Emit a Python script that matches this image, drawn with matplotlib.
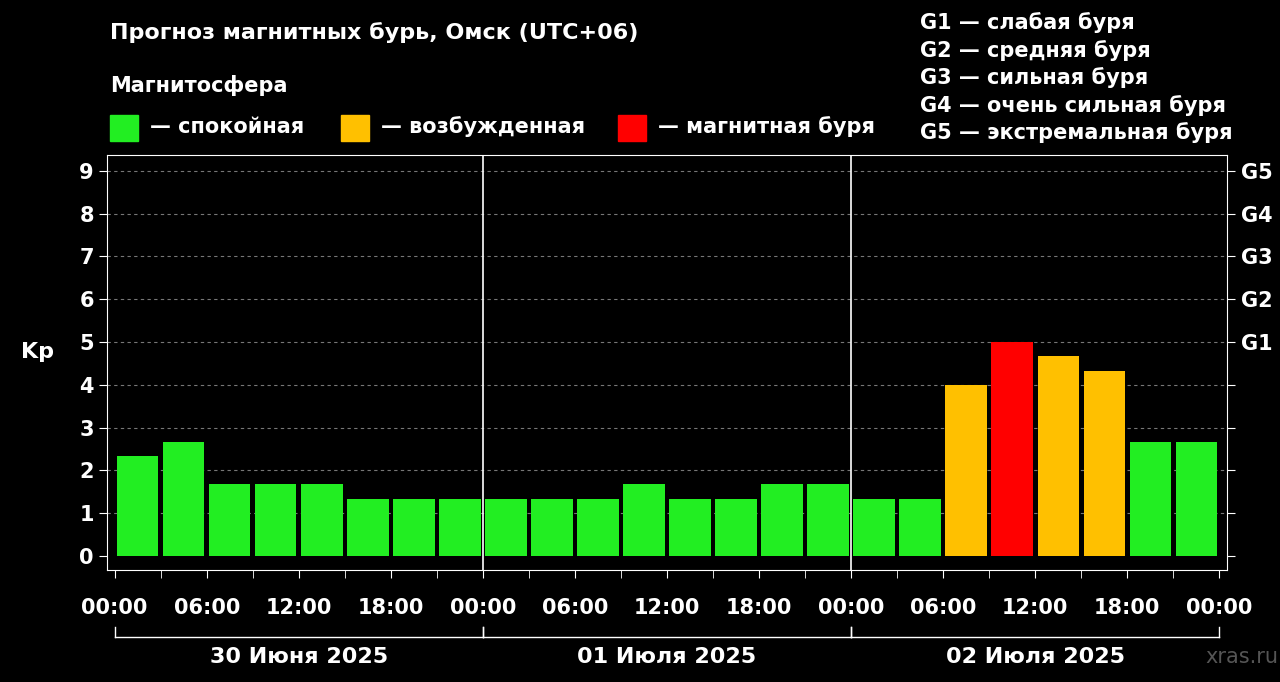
import matplotlib
matplotlib.use("Agg")
import matplotlib.pyplot as plt
from matplotlib.patches import Rectangle

kp = [2.33, 2.67, 1.67, 1.67, 1.67, 1.33, 1.33, 1.33,
      1.33, 1.33, 1.33, 1.67, 1.33, 1.33, 1.67, 1.67,
      1.33, 1.33, 4.0, 5.0, 4.67, 4.33, 2.67, 2.67]
hours = [1.5 + 3 * i for i in range(24)]
tick_labels = ["00:00", "06:00", "12:00", "18:00"] * 3 + ["00:00"]
days = ["30 Июня 2025", "01 Июля 2025", "02 Июля 2025"]
g_labels = ["G1", "G2", "G3", "G4", "G5"]
legend_g = ["G1 — слабая буря", "G2 — средняя буря", "G3 — сильная буря",
            "G4 — очень сильная буря", "G5 — экстремальная буря"]
legend_m = [("#22ee22", "— спокойная"), ("#ffc000", "— возбужденная"), ("#ff0000", "— магнитная буря")]

def color(v):
    if v >= 5: return "#ff0000"
    if v >= 4: return "#ffc000"
    return "#22ee22"

W, H = 1280, 682
fig = plt.figure(figsize=(W/100, H/100), dpi=100, facecolor="black")
ax = fig.add_axes([107/W, 1-570/H, (1227-107)/W, (570-155)/H], facecolor="black")
ax.set_xlim(-0.5, 72.5)
ax.set_ylim(-0.33, 9.37)
for y in range(1, 10):
    ax.axhline(y, color="#777777", lw=0.8, ls=(0, (3, 3)), zorder=0)
for x in (24, 48):
    ax.axvline(x, color="white", lw=1.2, zorder=1)
ax.bar(hours, kp, width=2.7, color=[color(v) for v in kp], zorder=2)
for s in ax.spines.values():
    s.set_color("white")
ax.set_yticks(range(0, 10))
ax.set_yticklabels([str(i) for i in range(10)], color="white", fontsize=15, fontweight="bold")
ax.set_xticks(range(0, 73, 6))
ax.set_xticks(range(0, 73, 3), minor=True)
ax.set_xticklabels(tick_labels, color="white", fontsize=15, fontweight="bold")
ax.tick_params(axis="x", which="both", colors="white", length=6, pad=14)
ax.tick_params(axis="y", colors="white", length=6, right=True)
sec = ax.secondary_yaxis("right")
sec.set_yticks([5, 6, 7, 8, 9])
sec.set_yticklabels(g_labels, color="white", fontsize=15, fontweight="bold")
sec.tick_params(colors="white", length=0, pad=10)
sec.spines["right"].set_visible(False)
ax.set_ylabel("Kp", color="white", fontsize=16, fontweight="bold", rotation=0, labelpad=30)

# day brackets
fx = lambda h: (115 + h * (1219 - 115) / 72) / W
ybr = 1 - 637/H
for d, name in enumerate(days):
    x0, x1 = fx(24 * d), fx(24 * (d + 1))
    fig.add_artist(plt.Line2D([x0, x1], [ybr, ybr], color="white", lw=1))
    fig.add_artist(plt.Line2D([x0, x0], [ybr, ybr + 10/H], color="white", lw=1))
    fig.add_artist(plt.Line2D([x1, x1], [ybr, ybr + 10/H], color="white", lw=1))
    fig.text((x0 + x1) / 2, 1 - 657/H, name, color="white", fontsize=16, fontweight="bold", ha="center", va="center")

fig.text(110/W, 1-33/H, "Прогноз магнитных бурь, Омск (UTC+06)", color="white", fontsize=16, fontweight="bold", va="center")
fig.text(110/W, 1-86/H, "Магнитосфера", color="white", fontsize=15, fontweight="bold", va="center")
for (c, t), x in zip(legend_m, (110, 341, 618)):
    fig.add_artist(Rectangle((x/W, 1-141/H), 28/W, 26/H, color=c, transform=fig.transFigure))
    fig.text((x + 40)/W, 1-127/H, t, color="white", fontsize=15, fontweight="bold", va="center")
for i, t in enumerate(legend_g):
    fig.text(920/W, 1-(23 + 27.5*i)/H, t, color="white", fontsize=15, fontweight="bold", va="center")
fig.text(1278/W, 1-657/H, "xras.ru", color="#555555", fontsize=15, ha="right", va="center")
fig.savefig("out.png", dpi=100, facecolor="black")
